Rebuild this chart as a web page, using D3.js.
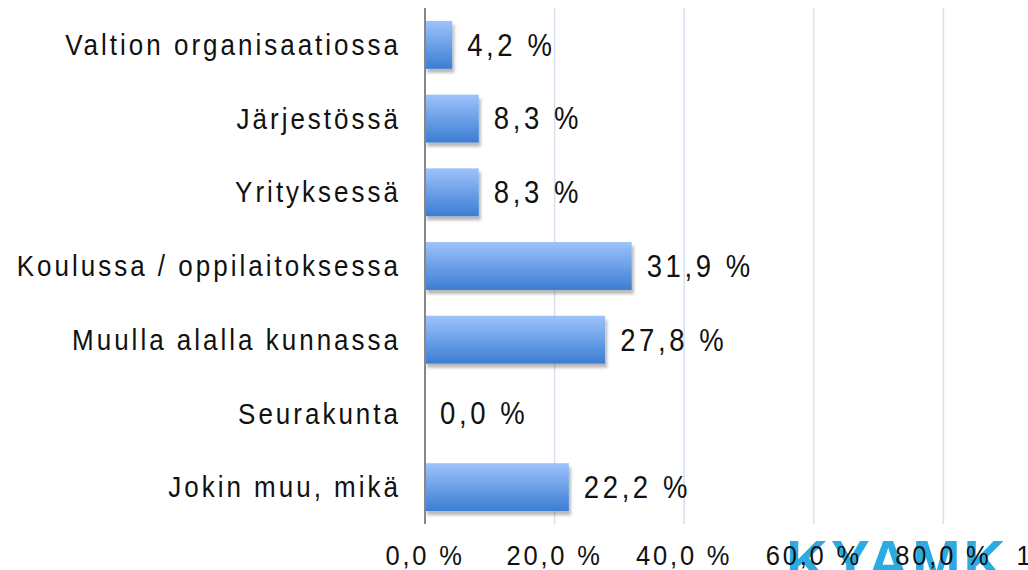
<!DOCTYPE html>
<html><head><meta charset="utf-8">
<script src="https://cdn.jsdelivr.net/npm/d3@7"></script>
<style>body{margin:0;background:#fff;overflow:hidden}svg{display:block}</style>
</head><body>
<svg id="c" width="1028" height="570"></svg>
<script>
const categories = ["Valtion organisaatiossa","Järjestössä","Yrityksessä","Koulussa / oppilaitoksessa","Muulla alalla kunnassa","Seurakunta","Jokin muu, mikä"];
const values = [4.2, 8.3, 8.3, 31.9, 27.8, 0.0, 22.2];
const ticks = [0, 20, 40, 60, 80, 100];
const fmt = v => v.toFixed(1).replace(".", ",") + " %";

const svg = d3.select("#c");
const defs = svg.append("defs");
const g1 = defs.append("linearGradient").attr("id","bg").attr("x1",0).attr("y1",0).attr("x2",0).attr("y2",1);
g1.append("stop").attr("offset","0%").attr("stop-color","#9dc3fb");
g1.append("stop").attr("offset","100%").attr("stop-color","#3b7dd3");
const f = defs.append("filter").attr("id","sh").attr("x","-10%").attr("y","-10%").attr("width","130%").attr("height","140%");
f.append("feDropShadow").attr("dx",2).attr("dy",4).attr("stdDeviation",1.5).attr("flood-color","#000").attr("flood-opacity",0.28);

const x = d3.scaleLinear().domain([0,100]).range([425, 1073]);
const y = d3.scaleBand().domain(categories).range([8, 524]).paddingInner(0.35).paddingOuter(0.175);
const SY = 1.12;
const FONT = "Liberation Sans, Arial, sans-serif";

svg.append("g").selectAll("line").data(ticks.filter(t=>t>0)).join("line")
  .attr("x1",d=>x(d)).attr("x2",d=>x(d)).attr("y1",8).attr("y2",524)
  .attr("stroke","#d6e1ef").attr("stroke-width",1.5);

svg.append("g").selectAll("rect").data(values).join("rect")
  .attr("x", x(0)).attr("y",(d,i)=>y(categories[i]))
  .attr("width", d=>x(d)-x(0)).attr("height", y.bandwidth())
  .attr("fill","url(#bg)").attr("filter","url(#sh)")
  .attr("display", d=>d>0?null:"none");

svg.append("line").attr("x1",x(0)).attr("x2",x(0)).attr("y1",8).attr("y2",524)
  .attr("stroke","#878787").attr("stroke-width",2);

svg.append("g").selectAll("text").data(categories).join("text")
  .attr("transform",d=>`translate(401,${y(d)+y.bandwidth()/2}) scale(1,${SY})`)
  .attr("dy","0.35em")
  .attr("text-anchor","end").attr("font-family",FONT)
  .attr("font-size",26).attr("letter-spacing",3.0).attr("fill","#111")
  .text(d=>d);

svg.append("g").selectAll("text").data(values).join("text")
  .attr("transform",(d,i)=>`translate(${x(d)+15},${y(categories[i])+y.bandwidth()/2}) scale(1,${SY})`)
  .attr("dy","0.35em")
  .attr("font-family",FONT)
  .attr("font-size",27.5).attr("letter-spacing",3.6).attr("fill","#111")
  .text(d=>fmt(d));

svg.append("text").attr("x",786).attr("y",581)
  .attr("font-family",FONT).attr("font-weight","bold")
  .attr("font-size",58).attr("letter-spacing",3).attr("fill","#2aabe2")
  .text("KYAMK");

svg.append("g").selectAll("text").data(ticks).join("text")
  .attr("transform",d=>`translate(${x(d)},555) scale(1,${SY})`)
  .attr("dy","0.35em").attr("text-anchor","middle")
  .attr("font-family",FONT)
  .attr("font-size",25.5).attr("letter-spacing",2.8).attr("fill","#111")
  .text(d=>fmt(d));
</script>
</body></html>
